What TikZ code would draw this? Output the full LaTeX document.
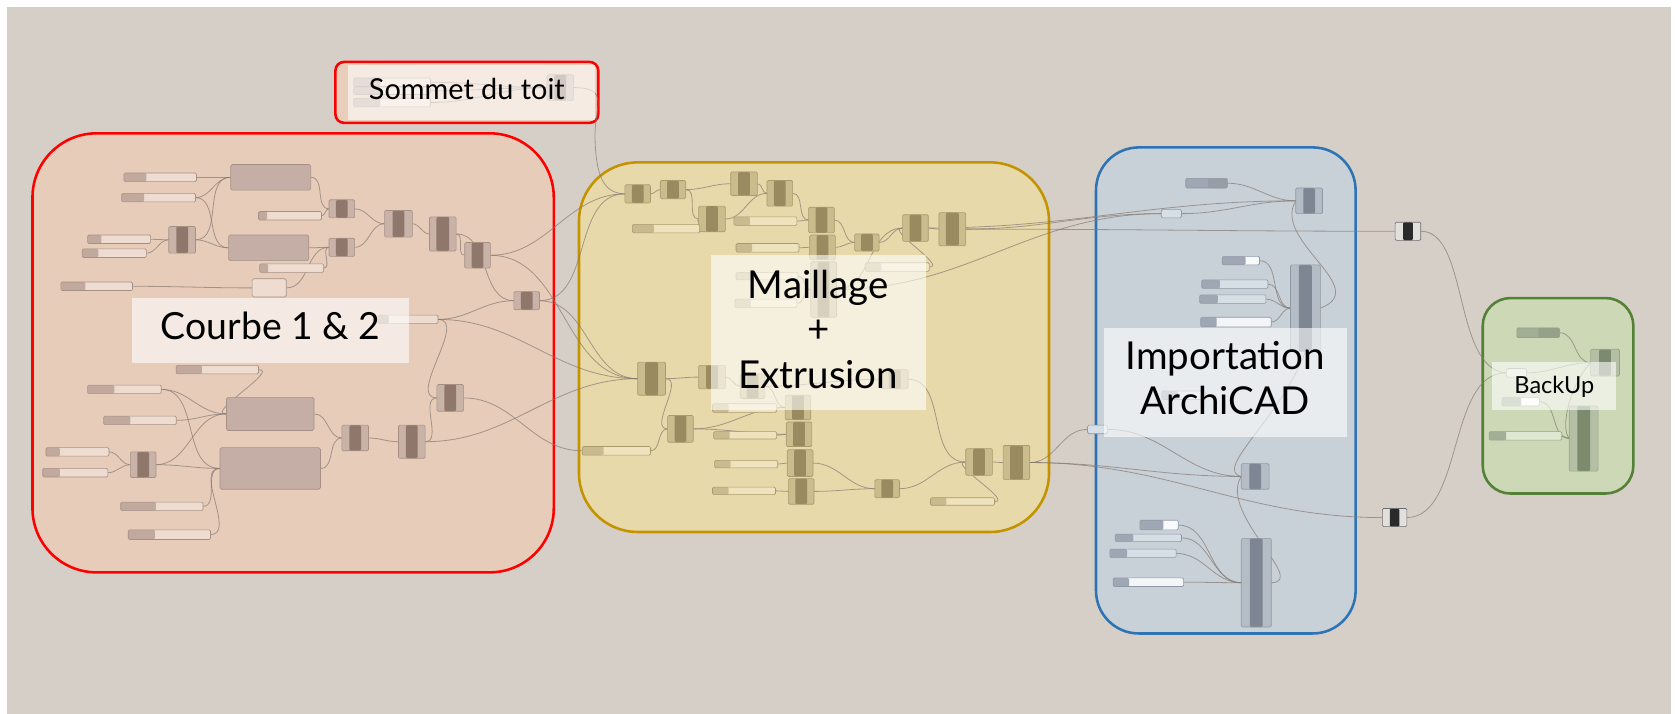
\documentclass[tikz,border=0pt]{standalone}
\usepackage{fontspec}
\setmainfont{Lato}
\pgfdeclarelayer{grp}
\pgfdeclarelayer{wir}
\pgfsetlayers{grp,wir,main}
\definecolor{bgc}{HTML}{D6CFC8}
\definecolor{redF}{HTML}{E7CCB9}
\definecolor{redB}{HTML}{FF0000}
\definecolor{somF}{HTML}{E9CEBB}
\definecolor{yelF}{HTML}{E8D9AA}
\definecolor{yelB}{HTML}{C49300}
\definecolor{bluF}{HTML}{C8D1D7}
\definecolor{bluB}{HTML}{2E74B5}
\definecolor{grnF}{HTML}{CDD9B6}
\definecolor{grnB}{HTML}{538135}
\definecolor{wc}{HTML}{857A73}
% red group component colours
\definecolor{Rcc}{HTML}{C9B2A8}\definecolor{Rck}{HTML}{8F786B}\definecolor{Rcd}{HTML}{A69086}
\definecolor{Rcf}{HTML}{EEDCD0}\definecolor{Rcs}{HTML}{C2A99E}\definecolor{Rcb}{HTML}{C4AEA5}
% yellow
\definecolor{Ycc}{HTML}{CBBC8E}\definecolor{Yck}{HTML}{998A5F}\definecolor{Ycd}{HTML}{A99A6C}
\definecolor{Ycf}{HTML}{EFE3BD}\definecolor{Ycs}{HTML}{C9BA8F}
% blue
\definecolor{Bcc}{HTML}{B4BCC6}\definecolor{Bck}{HTML}{7D8692}\definecolor{Bcd}{HTML}{8F99A5}
\definecolor{Bcf}{HTML}{D6DEE6}\definecolor{Bcs}{HTML}{9EA7B3}
% green
\definecolor{Gcc}{HTML}{B4BFA5}\definecolor{Gck}{HTML}{7C8A6D}\definecolor{Gcd}{HTML}{96A287}
\definecolor{Gcf}{HTML}{DEE7D0}\definecolor{Gcs}{HTML}{A3AF94}
% dark relay components
\definecolor{Kcc}{HTML}{E2E0DC}\definecolor{Kck}{HTML}{2A2A2A}\definecolor{Kcd}{HTML}{6E6E6E}
\newcommand\wir[2]{\draw[wire] (#1.east) to[out=0,in=180] (#2.west);}
\tikzset{
  comp/.style={rectangle, draw=cd, fill=cc, line width=0.6pt, rounded corners=1.2pt, inner sep=0pt, outer sep=0pt,
    path picture={\fill[ck] ([xshift=-#1]path picture bounding box.north) rectangle ([xshift=#1]path picture bounding box.south);}},
  comp/.default=5.5pt,
  sld/.style={rectangle, draw=cd, fill=cf, line width=0.6pt, rounded corners=1.2pt, inner sep=0pt, outer sep=0pt,
    path picture={\fill[cs] (path picture bounding box.north west) rectangle ([xshift=#1]path picture bounding box.south west);}},
  sld/.default=21pt,
  sldd/.style={rectangle, draw=cd, fill=cs, line width=0.6pt, rounded corners=1.2pt, inner sep=0pt, outer sep=0pt,
    path picture={\fill[ck!80] ([xshift=-#1]path picture bounding box.north east) rectangle (path picture bounding box.south east);}},
  sldd/.default=18pt,
  bigb/.style={rectangle, draw=cd, fill=cb, line width=0.6pt, rounded corners=1.5pt, inner sep=0pt},
  rly/.style={rectangle, draw=cd, fill=cf, line width=0.6pt, rounded corners=1.5pt, inner sep=0pt},
  wh/.style 2 args={minimum width=#1pt, minimum height=#2pt},
  wire/.style={draw=wc, line width=0.75pt, draw opacity=0.7},
  grpbox/.style={line width=2.4pt},
  lbl/.style={fill=white, fill opacity=0.6, inner sep=0pt, draw=none},
  txt/.style={anchor=base, text=black, inner sep=0pt},
}
\begin{document}
\begin{tikzpicture}[x=1pt,y=-1pt]
\useasboundingbox (0,0) rectangle (1568,668);
\begin{pgfonlayer}{grp}
\fill[white] (0,0) rectangle (1568,668);
\fill[bgc] (6.5,6.5) rectangle (1564,668);
\draw[grpbox, draw=redB, fill=redF, rounded corners=60pt] (30.4,124.8) rectangle (518.4,535.8);
\draw[grpbox, draw=redB, fill=somF, rounded corners=8pt] (314,58) rectangle (560,115);
\draw[grpbox, draw=yelB, fill=yelF, rounded corners=55pt] (542,152) rectangle (982,498);
\draw[grpbox, draw=bluB, fill=bluF, rounded corners=40pt] (1026,138) rectangle (1269,593);
\draw[grpbox, draw=grnB, fill=grnF, rounded corners=26pt] (1388,279) rectangle (1529,462);
\end{pgfonlayer}

% ---------------- red group
\colorlet{cc}{Rcc}\colorlet{ck}{Rck}\colorlet{cd}{Rcd}\colorlet{cf}{Rcf}\colorlet{cs}{Rcs}\colorlet{cb}{Rcb}
\node[sld,wh={68}{8}] (rs1) at (150,166) {};
\node[sld,wh={69}{8}] (rs2) at (148.5,185) {};
\node[bigb,wh={75}{24}] (rbA) at (253.5,166) {};
\node[comp,wh={24}{17}] (rc1) at (320,195.5) {};
\node[sld=8pt,wh={59}{8}] (rs3) at (271.5,202) {};
\node[comp,wh={26}{25}] (rc2) at (373,209.5) {};
\node[comp=6pt,wh={25}{32}] (rc3) at (414.5,219) {};
\node[comp,wh={24}{24}] (rc4) at (447,239) {};
\node[comp,wh={25}{25}] (rc5) at (170.5,224.5) {};
\node[sld=13pt,wh={59}{8}] (rs4) at (111.5,224) {};
\node[sld=15pt,wh={60}{8}] (rs5) at (107,237) {};
\node[bigb,wh={75}{24}] (rbB) at (251.5,232) {};
\node[comp,wh={24}{17}] (rc6) at (320,231.5) {};
\node[sld=8pt,wh={60}{8}] (rs6) at (273,251) {};
\node[sld=23pt,wh={67}{8}] (rs7) at (90.5,268) {};
\node[rly,wh={32}{17}] (rD) at (252,269.5) {};
\node[comp,wh={24}{17}] (rc7) at (493,281.5) {};
\node[sld=10pt,wh={56}{8}] (rs8) at (382,299) {};
\node[sld=24pt,wh={77}{8}] (rs9) at (203.5,346) {};
\node[sld=25pt,wh={69}{8}] (rs10) at (116.5,364.5) {};
\node[sld=25pt,wh={68}{8}] (rs11) at (131,393.5) {};
\node[bigb,wh={82}{31}] (rbE) at (253,387.5) {};
\node[bigb,wh={94}{39}] (rbF) at (253,438.5) {};
\node[comp,wh={25}{24}] (rc8) at (332.5,410) {};
\node[comp,wh={25}{31}] (rc9) at (385.5,413.5) {};
\node[comp,wh={25}{25}] (rc10) at (421.5,372.5) {};
\node[sld=13pt,wh={59}{8}] (rs12) at (72.5,423) {};
\node[sld=16pt,wh={61}{8}] (rs13) at (70.5,442.5) {};
\node[comp,wh={24}{24}] (rc11) at (134,435) {};
\node[sld=33pt,wh={77}{8}] (rs14) at (151.5,474) {};
\node[sld=25pt,wh={77}{9}] (rs15) at (158.5,500.5) {};
% sommet du toit
\node[sld=25pt,wh={72}{8}] (ss1) at (367,77) {};
\node[sld=25pt,wh={72}{7}] (ss2) at (367,85) {};
\node[sld=25pt,wh={72}{8}] (ss3) at (367,96) {};
\node[comp,wh={25}{24}] (so) at (524.5,82) {};

% ---------------- yellow group
\colorlet{cc}{Ycc}\colorlet{ck}{Yck}\colorlet{cd}{Ycd}\colorlet{cf}{Ycf}\colorlet{cs}{Ycs}
\node[comp,wh={24}{17}] (y1) at (597,181.5) {};
\node[comp,wh={24}{17}] (y2) at (630,177.5) {};
\node[comp,wh={25}{22}] (y3) at (696.5,172) {};
\node[comp,wh={24}{24}] (y4) at (730,181) {};
\node[comp,wh={25}{24}] (y5) at (666.5,205) {};
\node[sld=20pt,wh={63}{8}] (ys1) at (623.5,214) {};
\node[sld=15pt,wh={59}{8}] (ys2) at (716.5,207) {};
\node[comp,wh={24}{24}] (y6) at (769,206) {};
\node[sld=15pt,wh={59}{8}] (ys3) at (718.5,232) {};
\node[comp,wh={24}{23}] (y7) at (770,231.5) {};
\node[comp,wh={23}{16}] (y8) at (811.5,227) {};
\node[comp,wh={24}{25}] (y9) at (857,213.5) {};
\node[comp=6pt,wh={25}{31}] (y10) at (891.5,214.5) {};
\node[sld=15pt,wh={60}{8}] (ys4) at (840,250) {};
\node[sld=15pt,wh={58}{7}] (ys5) at (718,258.5) {};
\node[sld=15pt,wh={58}{8}] (ys6) at (717,284) {};
\node[comp,wh={24}{52}] (y11) at (771,271) {};
\node[comp=6pt,wh={26}{31}] (y12) at (610,354.5) {};
\node[comp,wh={25}{22}] (y13) at (666.5,353) {};
\node[comp,wh={23}{23}] (y14) at (704.5,361.5) {};
\node[comp,wh={25}{18}] (y15) at (837.5,355) {};
\node[comp,wh={24}{23}] (y16) at (747,381.5) {};
\node[sld=15pt,wh={60}{8}] (ys7) at (697,382) {};
\node[comp,wh={24}{25}] (y17) at (637,401.5) {};
\node[comp,wh={24}{23}] (y18) at (748,406.5) {};
\node[sld=15pt,wh={59}{7}] (ys8) at (697.5,407.5) {};
\node[sld=20pt,wh={64}{8}] (ys9) at (577,422) {};
\node[comp,wh={24}{25}] (y19) at (749,433.5) {};
\node[sld=15pt,wh={59}{7}] (ys10) at (698.5,434.5) {};
\node[comp,wh={24}{24}] (y20) at (750,460) {};
\node[sld=15pt,wh={59}{7}] (ys11) at (696.5,459.5) {};
\node[comp,wh={23}{17}] (y21) at (830.5,457.5) {};
\node[comp,wh={25}{25}] (y22) at (916.5,432.5) {};
\node[comp=6pt,wh={25}{32}] (y23) at (951.5,433) {};
\node[sld=15pt,wh={60}{7}] (ys12) at (901,469.5) {};

% ---------------- blue group
\colorlet{cc}{Bcc}\colorlet{ck}{Bck}\colorlet{cd}{Bcd}\colorlet{cf}{Bcf}\colorlet{cs}{Bcs}
\node[sldd=18pt,wh={39}{9}] (bs1) at (1129.5,171.5) {};
\node[comp,wh={25}{24}] (b1) at (1225.5,188) {};
\node[rly,wh={19}{8}] (br1) at (1096.5,200) {};
\node[sld=22pt,wh={35}{8},fill=white!85!Bcf] (bs2) at (1161.5,244) {};
\node[comp=6pt,wh={28}{81}] (b2) at (1222,288.5) {};
\node[sld=17pt,wh={62}{8}] (bs3) at (1156,266) {};
\node[sld=17pt,wh={62}{8}] (bs4) at (1154,280) {};
\node[sld=15pt,wh={66}{9},fill=white!70!Bcf] (bs5) at (1157,301.5) {};
\node[sld=15pt,wh={41}{8}] (bsx) at (1108,370) {};
\node[rly,wh={19}{8}] (br2) at (1027.5,402) {};
\node[comp,wh={26}{24}] (b3) at (1175,446) {};
\node[sld=22pt,wh={36}{9},fill=white!85!Bcf] (bs6) at (1085,491.5) {};
\node[sld=17pt,wh={62}{7}] (bs7) at (1075,503.5) {};
\node[sld=16pt,wh={62}{8}] (bs8) at (1070,518) {};
\node[sld=15pt,wh={66}{8},fill=white!70!Bcf] (bs9) at (1075,545) {};
\node[comp=6pt,wh={28}{83}] (b4) at (1176,545.5) {};

% ---------------- dark relays
\colorlet{cc}{Kcc}\colorlet{ck}{Kck}\colorlet{cd}{Kcd}
\node[comp=4.5pt,wh={24}{17}] (k1) at (1318,216.5) {};
\node[comp=4.5pt,wh={23}{17}] (k2) at (1305.5,484.5) {};

% ---------------- green group
\colorlet{cc}{Gcc}\colorlet{ck}{Gck}\colorlet{cd}{Gcd}\colorlet{cf}{Gcf}\colorlet{cs}{Gcs}
\node[sldd=20pt,wh={40}{9}] (gs1) at (1440,311.5) {};
\node[comp,wh={27}{25}] (g1) at (1502.5,339.5) {};
\node[rly,wh={19}{8}] (gr) at (1419.5,349) {};
\node[sld=18pt,wh={35}{8},fill=white!85!Gcf] (gs2) at (1423.5,376) {};
\node[sld=16pt,wh={68}{8}] (gs3) at (1428,408) {};
\node[comp=6pt,wh={27}{61}] (g2) at (1482.5,410.5) {};

% ---------------- wires
\begin{pgfonlayer}{wir}
\wir{rs1}{rbA}\wir{rs2}{rbA}\wir{rs2}{rbB}\wir{rc5}{rbA}\wir{rc5}{rbB}
\wir{rs4}{rc5}\wir{rs5}{rc5}\wir{rbA}{rc1}\wir{rs3}{rc1}\wir{rbB}{rc6}
\wir{rs6}{rc6}\wir{rs7}{rD}\wir{rD}{rc6}\wir{rc1}{rc2}\wir{rc6}{rc2}
\wir{rc2}{rc3}\wir{rc3}{rc4}\wir{rc3}{rc7}\wir{rs8}{rc7}\wir{rs8}{rc10}
\wir{rc9}{rc10}
\wir{rs9}{rbE}\wir{rs10}{rbE}\wir{rs10}{rbF}\wir{rs11}{rbE}\wir{rc11}{rbE}\wir{rc11}{rbF}
\wir{rs12}{rc11}\wir{rs13}{rc11}\wir{rs14}{rbF}\wir{rs15}{rbF}
\wir{rbE}{rc8}\wir{rbF}{rc8}\wir{rc8}{rc9}
\wir{rc9}{y12}\wir{rc4}{y1}\wir{rc4}{y12}\wir{rc7}{y1}\wir{rc7}{y12}\wir{rs8}{y12}\wir{rc10}{ys9}
\wir{ss1}{so}\wir{ss2}{so}\wir{ss3}{so}
\draw[wire] (so.east) .. controls (572,82) and (556,100) .. (557,130) .. controls (558,165) and (565,181) .. (y1.west);
% yellow
\wir{y1}{y2}\wir{y2}{y3}\wir{y2}{y5}\wir{ys1}{y5}\wir{y5}{y4}\wir{y3}{y4}
\wir{y4}{y6}\wir{ys2}{y6}\wir{ys3}{y7}\wir{y6}{y8}\wir{y7}{y8}\wir{y8}{y9}
\wir{ys4}{y9}\wir{y9}{y10}\wir{y11}{y9}\wir{ys5}{y11}\wir{ys6}{y11}
\wir{y12}{y13}\wir{y12}{y17}\wir{y13}{y14}\wir{y14}{y16}\wir{ys9}{y17}
\wir{y17}{y16}\wir{y17}{y18}\wir{ys7}{y16}\wir{ys8}{y18}\wir{ys10}{y19}
\wir{ys11}{y20}\wir{y19}{y21}\wir{y20}{y21}\wir{y21}{y22}\wir{y15}{y22}
\wir{ys12}{y22}\wir{y22}{y23}\wir{y14}{y15}
% yellow to blue
\wir{y10}{k1}\wir{y10}{br1}\wir{y9}{b1}\wir{y11}{br1}
\wir{y23}{br2}\wir{y23}{b3}\wir{y23}{k2}
% blue
\wir{bs1}{b1}\wir{br1}{b1}\wir{bs2}{b2}\wir{bs3}{b2}\wir{bs4}{b2}\wir{bs5}{b2}
\wir{br2}{b3}\wir{bs6}{b4}\wir{bs7}{b4}\wir{bs8}{b4}\wir{bs9}{b4}
\draw[wire] (b1.west) .. controls (1190,225) and (1285,270) .. (b2.east);
\draw[wire] (b2.south) .. controls (1200,390) and (1135,440) .. (b3.west);
\draw[wire] (b3.west) .. controls (1140,480) and (1225,545) .. (b4.east);
% to green
\draw[wire] (k1.east) .. controls (1375,216) and (1360,345) .. (gr.west);
\draw[wire] (k2.east) .. controls (1370,484) and (1355,349) .. (gr.west);
\wir{gs1}{g1}\wir{gr}{g1}\wir{gs2}{g2}\wir{gs3}{g2}
\draw[wire] (g1.west) .. controls (1470,360) and (1460,400) .. (g2.west);
\end{pgfonlayer}

% ---------------- labels
\node[lbl,wh={259}{60.5}] (LC) at (253.5,309.25) {};
\node[lbl,wh={231}{51}] (LS) at (441.5,86.5) {};
\node[lbl,wh={201}{145}] (LM) at (766.5,311.5) {};
\node[lbl,wh={228}{102}] (LI) at (1147,358) {};
\node[lbl,wh={116}{45}] (LB) at (1455,361.5) {};
\node[txt,font=\fontsize{35}{35}\selectfont] (tC) at (253.5,318) {Courbe 1 \& 2};
\node[txt,font=\fontsize{27}{27}\selectfont] (tS) at (437,93) {Sommet du toit};
\node[txt,font=\fontsize{36}{36}\selectfont] (tM1) at (766,279) {Maillage};
\node[txt,font=\fontsize{36}{36}\selectfont] (tM2) at (766,321) {+};
\node[txt,font=\fontsize{36}{36}\selectfont] (tM3) at (766,363.5) {Extrusion};
\node[txt,font=\fontsize{36}{36}\selectfont] (tI1) at (1147,345.8) {Importation};
\node[txt,font=\fontsize{36}{36}\selectfont] (tI2) at (1147,387.9) {ArchiCAD};
\node[txt,font=\fontsize{22}{22}\selectfont] (tB) at (1455,368.2) {BackUp};
\end{tikzpicture}
\end{document}
